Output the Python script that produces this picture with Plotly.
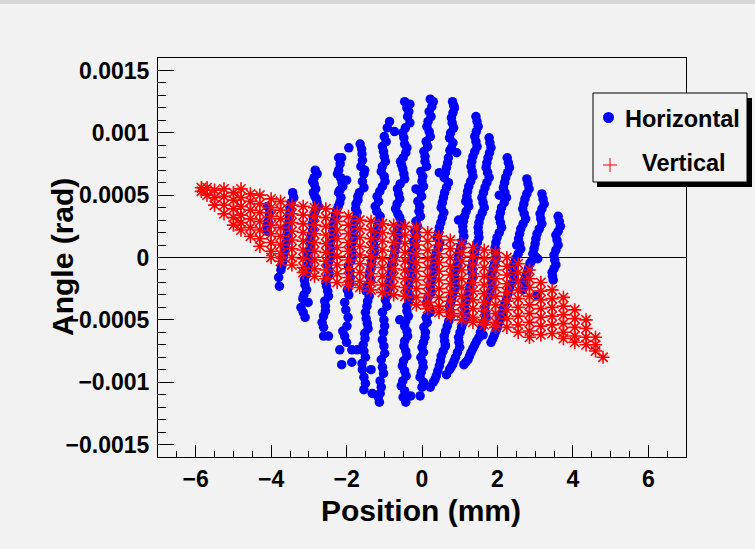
import plotly.graph_objects as go

# ---------------- data ----------------
# Horizontal phase space (blue), read column by column: position (mm), angle (rad)
h_cols_x = [
    [-3.43, -3.47, -3.50, -3.53, -3.57, -3.60, -3.64, -3.70, -3.74, -3.78, -4.10, -4.08, -4.10],
    [-2.83, -2.86, -2.86, -2.88, -2.80, -2.75, -2.86, -2.91, -2.94, -2.96, -3.02, -3.02, -3.07, -3.10, -3.13, -3.02, -3.21, -3.10],
    [-2.21, -2.13, -2.21, -2.16, -2.10, -2.21, -2.18, -2.26, -2.32, -2.37, -2.40, -2.43, -2.45, -2.48, -2.51, -2.53, -2.48, -2.56, -2.61, -2.61, -2.61, -2.48],
    [-1.94, -1.64, -1.59, -1.62, -1.54, -1.54, -1.70, -1.75, -1.72, -1.78, -1.80, -1.83, -1.86, -1.89, -1.91, -1.91, -1.94, -2.02, -1.99, -2.05, -2.18, -2.13, -1.86, -1.86, -1.72],
    [-0.86, -1.00, -0.73, -1.05, -1.00, -1.05, -1.00, -1.05, -1.19, -1.24, -1.11, -1.18, -1.22, -1.26, -1.30, -1.35, -1.40, -1.45, -1.40, -1.46, -1.48, -1.43, -1.51, -1.54, -1.59, -1.54, -1.54, -1.32],
    [-0.46, -0.32, -0.38, -0.32, -0.51, -0.46, -0.43, -0.57, -0.51, -0.46, -0.65, -0.59, -0.70, -0.59, -0.57, -0.62, -0.70, -0.75, -0.81, -0.84, -0.89, -0.97, -1.05, -0.99, -1.05, -0.99, -1.05, -1.11, -1.11, -1.13],
    [0.22, 0.30, 0.19, 0.16, 0.19, 0.11, 0.05, 0.08, -0.03, 0.00, -0.05, -0.11, -0.08, -0.16, -0.19, -0.22, -0.27, -0.30, -0.32, -0.35, -0.38, -0.35, -0.40, -0.43, -0.40, -0.46, -0.43, -0.49, -0.46, -0.51, -0.46, -0.43, -0.30],
    [0.81, 0.86, 0.78, 0.84, 0.73, 0.78, 0.92, 0.70, 0.65, 0.59, 0.65, 0.57, 0.51, 0.54, 0.46, 0.40, 0.43, 0.35, 0.30, 0.27, 0.22, 0.16, 0.19, 0.11, 0.05, 0.08, 0.00, -0.03, 0.03, -0.05, 0.00, -0.05],
    [1.43, 1.49, 1.40, 1.46, 1.35, 1.30, 1.35, 1.24, 1.19, 1.24, 1.13, 1.08, 1.11, 1.03, 0.97, 0.92, 0.86, 0.89, 0.81, 0.73, 0.76, 0.67, 0.59, 0.62, 0.51, 0.46, 0.38, 0.30, 0.22],
    [1.78, 1.83, 1.75, 1.70, 1.78, 1.67, 1.59, 1.65, 1.54, 1.49, 1.51, 1.43, 1.38, 1.32, 1.35, 1.27, 1.19, 1.13, 1.16, 1.05, 0.97, 1.00, 0.89, 0.81, 0.73, 0.65],
    [2.26, 2.32, 2.22, 2.16, 2.24, 2.11, 2.05, 2.11, 1.99, 1.94, 1.97, 1.89, 1.83, 1.86, 1.75, 1.67, 1.70, 1.59, 1.51, 1.40, 1.30, 1.22, 1.11],
    [2.78, 2.84, 2.73, 2.67, 2.75, 2.62, 2.56, 2.62, 2.48, 2.40, 2.45, 2.32, 2.24, 2.16, 2.08, 2.00, 1.92, 1.83],
    [3.18, 3.24, 3.13, 3.18, 3.05, 3.00, 2.94, 3.07, 2.86, 2.78, 2.70, 2.67],
    [3.61, 3.67, 3.55, 3.61, 3.50, 3.55, 3.45, 3.48],
    # points seen off the main columns
    [-0.16, 0.46, 0.97, -0.59, 1.62, 2.05, 2.51, 3.05, -1.35, -2.00, 0.62, 1.16],
    # second layer of points that thicken each column
    [-3.40, -3.50, -3.52, -3.58, -3.55, -3.64, -3.68, -3.72, -3.80, -4.05, -4.12],
    [-2.78, -2.90, -2.82, -2.84, -2.78, -2.82, -2.88, -2.90, -2.98, -3.00, -2.98, -3.05, -3.12, -3.06, -3.16, -3.15],
    [-2.17, -2.24, -2.12, -2.18, -2.15, -2.22, -2.29, -2.35, -2.33, -2.44, -2.40, -2.50, -2.46, -2.55, -2.50, -2.58, -2.56, -2.65],
    [-1.60, -1.58, -1.52, -1.58, -1.66, -1.70, -1.76, -1.74, -1.82, -1.80, -1.88, -1.86, -1.95, -1.90, -1.98, -2.05, -1.96, -2.10, -2.00],
    [-0.92, -0.95, -1.02, -0.97, -1.08, -0.98, -1.12, -1.15, -1.20, -1.14, -1.24, -1.28, -1.27, -1.33, -1.38, -1.36, -1.48, -1.44, -1.50, -1.45, -1.52, -1.56, -1.50, -1.58, -1.50],
    [-0.40, -0.35, -0.44, -0.48, -0.40, -0.50, -0.54, -0.48, -0.58, -0.62, -0.66, -0.64, -0.54, -0.66, -0.66, -0.72, -0.78, -0.80, -0.88, -0.92, -0.93, -1.01, -1.02, -1.01, -1.08, -1.02, -1.08, -1.16],
    [0.26, 0.24, 0.13, 0.22, 0.15, 0.08, 0.12, 0.02, 0.04, -0.01, -0.06, -0.04, -0.12, -0.14, -0.18, -0.24, -0.24, -0.28, -0.36, -0.32, -0.40, -0.36, -0.46, -0.38, -0.48, -0.40, -0.52, -0.42, -0.55, -0.50],
    [0.84, 0.82, 0.80, 0.76, 0.82, 0.74, 0.68, 0.62, 0.70, 0.60, 0.54, 0.58, 0.50, 0.44, 0.47, 0.38, 0.33, 0.32, 0.24, 0.25, 0.13, 0.22, 0.14, 0.09, 0.04, 0.04, 0.02, -0.02, 0.04],
    [1.46, 1.44, 1.43, 1.40, 1.32, 1.33, 1.29, 1.21, 1.22, 1.17, 1.10, 1.09, 1.07, 1.00, 0.95, 0.89, 0.88, 0.85, 0.77, 0.74, 0.71, 0.63, 0.60, 0.56, 0.49, 0.42, 0.34],
    [1.80, 1.79, 1.72, 1.74, 1.72, 1.63, 1.62, 1.60, 1.51, 1.50, 1.47, 1.40, 1.35, 1.33, 1.31, 1.23, 1.16, 1.15, 1.10, 1.01, 0.98, 0.94, 0.85, 0.77],
    [2.29, 2.27, 2.19, 2.20, 2.18, 2.08, 2.08, 2.05, 1.96, 1.95, 1.93, 1.86, 1.85, 1.80, 1.71, 1.68, 1.64, 1.55, 1.45, 1.35, 1.26, 1.16],
    [2.81, 2.78, 2.70, 2.71, 2.68, 2.59, 2.59, 2.55, 2.44, 2.42, 2.38, 2.28, 2.20, 2.12, 2.04, 1.96, 1.88],
    [3.21, 3.18, 3.15, 3.11, 3.02, 2.97, 3.00, 2.90, 2.82, 2.74, 2.71],
    [3.64, 3.61, 3.58, 3.55, 3.52, 3.50, 3.46],
]
h_cols_y = [
    [0.00052, 0.00044, 0.00036, 0.00028, 0.00020, 0.00012, 0.00004, -0.00004, -0.00010, -0.00023, 0.00041, 0.00029, 0.00021],
    [0.00070, 0.00064, 0.00059, 0.00052, 0.00047, 0.00041, 0.00035, 0.00027, 0.00018, 0.00010, 0.00002, -0.00006, -0.00014, -0.00022, -0.00030, -0.00036, -0.00040, -0.00048],
    [0.00080, 0.00080, 0.00070, 0.00064, 0.00057, 0.00052, 0.00044, 0.00038, 0.00030, 0.00022, 0.00014, 0.00006, -0.00002, -0.00010, -0.00016, -0.00023, -0.00031, -0.00039, -0.00047, -0.00056, -0.00063, -0.00063],
    [0.00088, 0.00091, 0.00083, 0.00073, 0.00067, 0.00056, 0.00049, 0.00043, 0.00036, 0.00029, 0.00021, 0.00013, 0.00005, -0.00003, -0.00011, -0.00021, -0.00030, -0.00042, -0.00055, -0.00063, -0.00074, -0.00086, -0.00074, -0.00084, -0.00074],
    [0.00109, 0.00097, 0.00101, 0.00089, 0.00081, 0.00073, 0.00065, 0.00057, 0.00049, 0.00041, 0.00033, 0.00025, 0.00017, 0.00009, 0.00001, -0.00007, -0.00015, -0.00023, -0.00031, -0.00039, -0.00049, -0.00057, -0.00065, -0.00075, -0.00085, -0.00096, -0.00106, -0.00109],
    [0.00125, 0.00123, 0.00113, 0.00108, 0.00100, 0.00091, 0.00084, 0.00077, 0.00071, 0.00063, 0.00055, 0.00047, 0.00039, 0.00032, 0.00025, 0.00017, 0.00009, 0.00001, -0.00007, -0.00015, -0.00025, -0.00034, -0.00044, -0.00055, -0.00066, -0.00077, -0.00088, -0.00099, -0.00109, -0.00116],
    [0.00127, 0.00125, 0.00117, 0.00109, 0.00101, 0.00093, 0.00085, 0.00077, 0.00069, 0.00061, 0.00053, 0.00045, 0.00037, 0.00029, 0.00021, 0.00013, 0.00005, -0.00003, -0.00011, -0.00019, -0.00027, -0.00035, -0.00043, -0.00051, -0.00059, -0.00067, -0.00075, -0.00083, -0.00091, -0.00099, -0.00107, -0.00116, -0.00111],
    [0.00125, 0.00120, 0.00112, 0.00104, 0.00096, 0.00088, 0.00084, 0.00080, 0.00072, 0.00064, 0.00056, 0.00048, 0.00040, 0.00032, 0.00024, 0.00016, 0.00008, 0.00000, -0.00008, -0.00016, -0.00024, -0.00032, -0.00040, -0.00048, -0.00056, -0.00064, -0.00072, -0.00080, -0.00088, -0.00096, -0.00104, -0.00111],
    [0.00113, 0.00105, 0.00097, 0.00089, 0.00081, 0.00073, 0.00065, 0.00057, 0.00049, 0.00041, 0.00033, 0.00025, 0.00017, 0.00009, 0.00001, -0.00007, -0.00015, -0.00023, -0.00031, -0.00039, -0.00047, -0.00055, -0.00063, -0.00071, -0.00079, -0.00087, -0.00095, -0.00100, -0.00104],
    [0.00096, 0.00088, 0.00080, 0.00072, 0.00064, 0.00056, 0.00048, 0.00040, 0.00032, 0.00024, 0.00016, 0.00008, 0.00000, -0.00008, -0.00016, -0.00024, -0.00032, -0.00040, -0.00048, -0.00056, -0.00064, -0.00072, -0.00080, -0.00086, -0.00090, -0.00094],
    [0.00080, 0.00072, 0.00064, 0.00056, 0.00048, 0.00040, 0.00032, 0.00024, 0.00016, 0.00008, 0.00000, -0.00008, -0.00016, -0.00024, -0.00032, -0.00040, -0.00048, -0.00056, -0.00064, -0.00070, -0.00076, -0.00082, -0.00086],
    [0.00063, 0.00055, 0.00047, 0.00039, 0.00031, 0.00023, 0.00015, 0.00007, -0.00001, -0.00009, -0.00017, -0.00025, -0.00033, -0.00041, -0.00049, -0.00056, -0.00062, -0.00068],
    [0.00051, 0.00043, 0.00035, 0.00027, 0.00019, 0.00011, 0.00003, -0.00001, -0.00005, -0.00013, -0.00020, -0.00026],
    [0.00033, 0.00025, 0.00018, 0.00010, 0.00002, -0.00006, -0.00012, -0.00018],
    [0.00055, 0.00068, 0.00030, -0.00050, -0.00062, 0.00050, 0.00010, -0.00030, -0.00090, 0.00062, -0.00070, 0.00045],
    [0.00048, 0.00040, 0.00032, 0.00024, 0.00016, 0.00008, 0.00000, -0.00007, -0.00016, 0.00035, 0.00025],
    [0.00067, 0.00061, 0.00055, 0.00049, 0.00044, 0.00038, 0.00031, 0.00022, 0.00014, 0.00006, -0.00002, -0.00010, -0.00018, -0.00026, -0.00033, -0.00044],
    [0.00075, 0.00067, 0.00060, 0.00054, 0.00048, 0.00041, 0.00034, 0.00026, 0.00018, 0.00010, 0.00002, -0.00006, -0.00013, -0.00020, -0.00027, -0.00035, -0.00043, -0.00052],
    [0.00087, 0.00078, 0.00070, 0.00061, 0.00052, 0.00046, 0.00039, 0.00032, 0.00025, 0.00017, 0.00009, 0.00001, -0.00007, -0.00016, -0.00026, -0.00036, -0.00048, -0.00059, -0.00068],
    [0.00104, 0.00093, 0.00085, 0.00077, 0.00069, 0.00061, 0.00053, 0.00045, 0.00037, 0.00029, 0.00021, 0.00013, 0.00005, -0.00003, -0.00011, -0.00019, -0.00027, -0.00035, -0.00044, -0.00053, -0.00061, -0.00070, -0.00080, -0.00090, -0.00101],
    [0.00120, 0.00117, 0.00104, 0.00096, 0.00088, 0.00080, 0.00074, 0.00067, 0.00059, 0.00051, 0.00043, 0.00035, 0.00028, 0.00021, 0.00013, 0.00005, -0.00003, -0.00011, -0.00020, -0.00030, -0.00039, -0.00050, -0.00060, -0.00071, -0.00082, -0.00093, -0.00104, -0.00112],
    [0.00121, 0.00113, 0.00105, 0.00097, 0.00089, 0.00081, 0.00073, 0.00065, 0.00057, 0.00049, 0.00041, 0.00033, 0.00025, 0.00017, 0.00009, 0.00001, -0.00007, -0.00015, -0.00023, -0.00031, -0.00039, -0.00047, -0.00055, -0.00063, -0.00071, -0.00079, -0.00087, -0.00095, -0.00103, -0.00112],
    [0.00122, 0.00116, 0.00108, 0.00100, 0.00092, 0.00086, 0.00076, 0.00068, 0.00060, 0.00052, 0.00044, 0.00036, 0.00028, 0.00020, 0.00012, 0.00004, -0.00004, -0.00012, -0.00020, -0.00028, -0.00036, -0.00044, -0.00052, -0.00060, -0.00068, -0.00076, -0.00084, -0.00092, -0.00100],
    [0.00109, 0.00101, 0.00093, 0.00085, 0.00077, 0.00069, 0.00061, 0.00053, 0.00045, 0.00037, 0.00029, 0.00021, 0.00013, 0.00005, -0.00003, -0.00011, -0.00019, -0.00027, -0.00035, -0.00043, -0.00051, -0.00059, -0.00067, -0.00075, -0.00083, -0.00091, -0.00098],
    [0.00092, 0.00084, 0.00076, 0.00068, 0.00060, 0.00052, 0.00044, 0.00036, 0.00028, 0.00020, 0.00012, 0.00004, -0.00004, -0.00012, -0.00020, -0.00028, -0.00036, -0.00044, -0.00052, -0.00060, -0.00068, -0.00076, -0.00083, -0.00088],
    [0.00076, 0.00068, 0.00060, 0.00052, 0.00044, 0.00036, 0.00028, 0.00020, 0.00012, 0.00004, -0.00004, -0.00012, -0.00020, -0.00028, -0.00036, -0.00044, -0.00052, -0.00060, -0.00067, -0.00073, -0.00079, -0.00084],
    [0.00059, 0.00051, 0.00043, 0.00035, 0.00027, 0.00019, 0.00011, 0.00003, -0.00005, -0.00013, -0.00021, -0.00029, -0.00037, -0.00045, -0.00052, -0.00059, -0.00065],
    [0.00047, 0.00039, 0.00031, 0.00023, 0.00015, 0.00007, 0.00001, -0.00003, -0.00009, -0.00016, -0.00023],
    [0.00029, 0.00021, 0.00014, 0.00006, -0.00002, -0.00009, -0.00015],
]

# Vertical phase space (red), read stripe by stripe: position (mm) and angles (rad)
v_stripe_x = [-5.85, -5.7, -5.5, -5.25, -5.0, -4.8, -4.55, -4.3, -4.0, -3.75, -3.45, -3.15, -2.85,
              -2.55, -2.25, -1.95, -1.65, -1.35, -1.05, -0.75, -0.45, -0.15, 0.15, 0.45, 0.75,
              1.05, 1.35, 1.65, 1.95, 2.25, 2.55, 2.85, 3.15, 3.45, 3.75, 4.05, 4.35, 4.6, 4.8]
v_stripe_y = [
    [0.00056, 0.00053],
    [0.00056, 0.00050],
    [0.00054, 0.00048, 0.00042],
    [0.00055, 0.00049, 0.00042, 0.00035],
    [0.00052, 0.00046, 0.00039, 0.00032, 0.00026],
    [0.00055, 0.00048, 0.00041, 0.00034, 0.00028, 0.00022],
    [0.00051, 0.00045, 0.00038, 0.00031, 0.00024, 0.00017],
    [0.00050, 0.00043, 0.00036, 0.00029, 0.00022, 0.00015, 0.00009],
    [0.00047, 0.00040, 0.00033, 0.00026, 0.00019, 0.00012, 0.00005, 0.00000],
    [0.00045, 0.00038, 0.00031, 0.00024, 0.00017, 0.00010, 0.00003, -0.00003],
    [0.00042, 0.00035, 0.00028, 0.00021, 0.00014, 0.00007, 0.00000, -0.00006],
    [0.00041, 0.00034, 0.00027, 0.00020, 0.00013, 0.00006, -0.00001, -0.00008, -0.00012],
    [0.00040, 0.00033, 0.00026, 0.00019, 0.00012, 0.00005, -0.00002, -0.00009, -0.00015],
    [0.00039, 0.00032, 0.00025, 0.00018, 0.00011, 0.00004, -0.00003, -0.00010, -0.00017],
    [0.00036, 0.00029, 0.00022, 0.00015, 0.00008, 0.00001, -0.00006, -0.00013, -0.00020],
    [0.00033, 0.00026, 0.00019, 0.00012, 0.00005, -0.00002, -0.00009, -0.00016, -0.00022],
    [0.00030, 0.00023, 0.00016, 0.00009, 0.00002, -0.00005, -0.00012, -0.00019, -0.00024],
    [0.00029, 0.00022, 0.00015, 0.00008, 0.00001, -0.00006, -0.00013, -0.00020, -0.00026],
    [0.00027, 0.00020, 0.00013, 0.00006, -0.00001, -0.00008, -0.00015, -0.00022, -0.00028],
    [0.00026, 0.00019, 0.00012, 0.00005, -0.00002, -0.00009, -0.00016, -0.00023, -0.00030],
    [0.00025, 0.00018, 0.00011, 0.00004, -0.00003, -0.00010, -0.00017, -0.00024, -0.00031],
    [0.00024, 0.00017, 0.00010, 0.00003, -0.00004, -0.00011, -0.00018, -0.00025, -0.00032, -0.00038],
    [0.00020, 0.00013, 0.00006, -0.00001, -0.00008, -0.00015, -0.00022, -0.00029, -0.00036, -0.00041],
    [0.00017, 0.00010, 0.00003, -0.00004, -0.00011, -0.00018, -0.00025, -0.00032, -0.00039, -0.00044],
    [0.00014, 0.00007, 0.00000, -0.00007, -0.00014, -0.00021, -0.00028, -0.00035, -0.00042, -0.00047],
    [0.00011, 0.00004, -0.00003, -0.00010, -0.00017, -0.00024, -0.00031, -0.00038, -0.00045, -0.00050],
    [0.00008, 0.00001, -0.00006, -0.00013, -0.00020, -0.00027, -0.00034, -0.00041, -0.00048, -0.00052],
    [0.00006, -0.00001, -0.00008, -0.00015, -0.00022, -0.00029, -0.00036, -0.00043, -0.00050, -0.00054],
    [0.00004, -0.00003, -0.00010, -0.00017, -0.00024, -0.00031, -0.00038, -0.00045, -0.00052, -0.00056],
    [0.00000, -0.00007, -0.00014, -0.00021, -0.00028, -0.00035, -0.00042, -0.00049, -0.00056],
    [-0.00005, -0.00012, -0.00019, -0.00026, -0.00033, -0.00040, -0.00047, -0.00054, -0.00060],
    [-0.00010, -0.00017, -0.00024, -0.00031, -0.00038, -0.00045, -0.00052, -0.00059, -0.00064],
    [-0.00020, -0.00027, -0.00034, -0.00041, -0.00048, -0.00055, -0.00062],
    [-0.00026, -0.00033, -0.00040, -0.00047, -0.00054, -0.00061],
    [-0.00032, -0.00039, -0.00046, -0.00053, -0.00060, -0.00065],
    [-0.00042, -0.00049, -0.00056, -0.00063, -0.00068],
    [-0.00050, -0.00057, -0.00064, -0.00070],
    [-0.00064, -0.00070, -0.00075],
    [-0.00080],
]

series_names = ["Horizontal", "Vertical"]
x_title = "Position (mm)"
y_title = "Angle (rad)"

assert all(len(a) == len(b) for a, b in zip(h_cols_x, h_cols_y)) and len(h_cols_x) == len(h_cols_y)

# flatten the column/stripe structure
hx = [v for col in h_cols_x for v in col]
hy = [v for col in h_cols_y for v in col]
vx = [x for x, col in zip(v_stripe_x, v_stripe_y) for _ in col]
vy = [v for col in v_stripe_y for v in col]

# ---------------- geometry helpers (layout only) ----------------
W, H = 755, 549
L, R, T, B = 158, 686, 58, 457


def px_x(px):
    return (px - L) / (R - L)


def px_y(py):
    return (B - py) / (B - T)


BG = "#f2f2f2"
TICK_FONT = dict(family="Liberation Sans", size=23, color="black", weight="bold")
TITLE_FONT = dict(family="Liberation Sans", size=30, color="black", weight="bold")
LEG_FONT = dict(family="Liberation Sans", size=23.5, color="black", weight="bold")

fig = go.Figure()
fig.add_trace(go.Scatter(
    x=hx, y=hy, mode="markers", name=series_names[0], showlegend=False,
    marker=dict(color="#0000ff", size=9.5, line=dict(width=0)),
))
fig.add_trace(go.Scatter(
    x=vx, y=vy, mode="markers", name=series_names[1], showlegend=False,
    marker=dict(symbol="asterisk-open", size=11, color="#ff0000",
                line=dict(color="#ff0000", width=1.6)),
))

shapes = [
    # canvas look
    dict(type="rect", xref="paper", yref="paper", x0=px_x(0), x1=px_x(W), y0=px_y(0), y1=px_y(4),
         fillcolor="#d6d6d6", line=dict(width=0), layer="below"),
    # legend shadow and box
    dict(type="rect", xref="paper", yref="paper", x0=px_x(597), x1=px_x(752), y0=px_y(187), y1=px_y(98),
         fillcolor="black", line=dict(width=0), layer="above"),
    dict(type="rect", xref="paper", yref="paper", x0=px_x(593), x1=px_x(747), y0=px_y(182), y1=px_y(93),
         fillcolor=BG, line=dict(color="black", width=1), layer="above"),
    # legend symbols
    dict(type="circle", xref="paper", yref="paper", x0=px_x(603), x1=px_x(614), y0=px_y(123), y1=px_y(112),
         fillcolor="#0000ff", line=dict(width=0), layer="above"),
    dict(type="line", xref="paper", yref="paper", x0=px_x(603), x1=px_x(617), y0=px_y(165), y1=px_y(165),
         line=dict(color="#ff0000", width=1), layer="above"),
    dict(type="line", xref="paper", yref="paper", x0=px_x(610), x1=px_x(610), y0=px_y(158), y1=px_y(172),
         line=dict(color="#ff0000", width=1), layer="above"),
]

annotations = [
    dict(text=series_names[0], xref="paper", yref="paper", x=px_x(623), y=px_y(119),
         xanchor="left", yanchor="middle", showarrow=False, font=LEG_FONT),
    dict(text=series_names[1], xref="paper", yref="paper", x=px_x(640), y=px_y(163),
         xanchor="left", yanchor="middle", showarrow=False, font=LEG_FONT),
    dict(text=x_title, xref="paper", yref="paper", x=px_x(421), y=px_y(510),
         xanchor="center", yanchor="middle", showarrow=False, font=TITLE_FONT),
    dict(text=y_title, xref="paper", yref="paper", x=px_x(62), y=px_y(257), textangle=-90,
         xanchor="center", yanchor="middle", showarrow=False, font=TITLE_FONT),
]

fig.update_layout(
    width=W, height=H,
    margin=dict(l=L, r=W - R, t=T, b=H - B, pad=0),
    paper_bgcolor=BG, plot_bgcolor=BG,
    showlegend=False,
    shapes=shapes, annotations=annotations,
    xaxis=dict(
        range=[-7, 7], tickmode="linear", tick0=0, dtick=2,
        ticks="inside", ticklen=12, tickwidth=1, tickcolor="black",
        minor=dict(dtick=0.5, tick0=0, ticks="inside", ticklen=6, tickcolor="black", tickwidth=1),
        showline=True, linecolor="black", linewidth=1, mirror=True,
        showgrid=False, zeroline=False, tickfont=TICK_FONT, ticklabelstandoff=1,
    ),
    yaxis=dict(
        range=[-0.0016, 0.0016], tickmode="linear", tick0=0, dtick=0.0005, tickformat="~g",
        ticks="inside", ticklen=16, tickwidth=1, tickcolor="black",
        minor=dict(dtick=0.0001, tick0=0, ticks="inside", ticklen=8, tickcolor="black", tickwidth=1),
        showline=True, linecolor="black", linewidth=1, mirror=True,
        showgrid=False, zeroline=True, zerolinecolor="black", zerolinewidth=1,
        tickfont=TICK_FONT, ticklabelstandoff=3,
    ),
)

fig.write_html("out.html")
